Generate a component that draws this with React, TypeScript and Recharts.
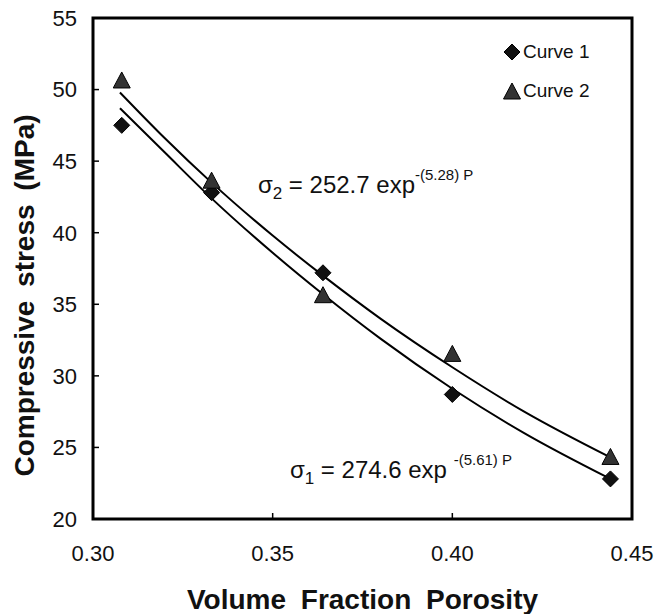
import React from 'react';
import {
  ComposedChart,
  Line,
  Scatter,
  XAxis,
  YAxis,
  ReferenceArea,
  ReferenceDot,
  Legend,
} from 'recharts';

// measured points
const porosity = [0.308, 0.333, 0.364, 0.4, 0.444];
const curve1 = [47.5, 42.8, 37.2, 28.7, 22.8];
const curve2 = [50.6, 43.6, 35.6, 31.5, 24.3];

// fitted exponential curves
const fitPorosity = [0.3075, 0.32, 0.333, 0.35, 0.364, 0.38, 0.4, 0.42, 0.444];
const fit1 = [48.7, 45.6, 42.4, 38.6, 35.7, 32.6, 29.1, 26.0, 22.8];
const fit2 = [49.8, 46.6, 43.5, 39.8, 37.0, 34.0, 30.6, 27.5, 24.3];

const xTicks = [0.3, 0.35, 0.4, 0.45];
const yTicks = [20, 25, 30, 35, 40, 45, 50, 55];
const seriesNames = ['Curve 1', 'Curve 2'];

const FONT = '"Liberation Sans", Arial, sans-serif';

const pts1 = porosity.map((p, i) => ({ p, s: curve1[i] }));
const pts2 = porosity.map((p, i) => ({ p, s: curve2[i] }));
const line1 = fitPorosity.map((p, i) => ({ p, s: fit1[i] }));
const line2 = fitPorosity.map((p, i) => ({ p, s: fit2[i] }));

const Diamond = (props: any) => {
  const { cx, cy } = props;
  const r = 8;
  return (
    <polygon
      points={`${cx},${cy - r} ${cx + r},${cy} ${cx},${cy + r} ${cx - r},${cy}`}
      fill="#111"
      stroke="#000"
      strokeWidth={1}
    />
  );
};

const Triangle = (props: any) => {
  const { cx, cy } = props;
  return (
    <polygon
      points={`${cx},${cy - 9} ${cx + 8.5},${cy + 7} ${cx - 8.5},${cy + 7}`}
      fill="#333"
      stroke="#000"
      strokeWidth={1}
    />
  );
};

const Eq2 = (props: any) => (
  <text x={props.cx} y={props.cy} fontFamily={FONT} fontSize={24} fill="#111" style={{ whiteSpace: 'pre' }}>
    <tspan>σ</tspan>
    <tspan fontSize={17} dy={6}>2</tspan>
    <tspan dy={-6}> = 252.7 exp</tspan>
    <tspan fontSize={15} dy={-13}>-(5.28) P</tspan>
  </text>
);

const Eq1 = (props: any) => (
  <text x={props.cx} y={props.cy} fontFamily={FONT} fontSize={24} fill="#111" style={{ whiteSpace: 'pre' }}>
    <tspan>σ</tspan>
    <tspan fontSize={17} dy={6}>1</tspan>
    <tspan dy={-6}> = 274.6 exp </tspan>
    <tspan fontSize={15} dy={-13}>-(5.61) P</tspan>
  </text>
);

const LegendBox = () => (
  <div style={{ fontFamily: FONT, fontSize: 19, color: '#111', lineHeight: '39px' }}>
    {seriesNames.map((name, i) => (
      <div key={name} style={{ display: 'flex', alignItems: 'center' }}>
        <svg width={18} height={18} style={{ marginRight: 2 }}>
          {i === 0 ? <Diamond cx={9} cy={9} /> : <Triangle cx={9} cy={10} />}
        </svg>
        {name}
      </div>
    ))}
  </div>
);

const YTitle = (props: any) => {
  const { viewBox } = props;
  const x = 34;
  const y = viewBox.y + viewBox.height / 2 + 27;
  return (
    <text
      x={x}
      y={y}
      transform={`rotate(-90, ${x}, ${y})`}
      textAnchor="middle"
      fontFamily={FONT}
      fontWeight="bold"
      fontSize={28}
      fill="#111"
      style={{ wordSpacing: 6 }}
    >
      Compressive stress (MPa)
    </text>
  );
};

export default function App() {
  return (
    <div style={{ position: 'absolute', left: 0, top: 0, width: 656, height: 614, background: '#fff' }}>
      <ComposedChart width={656} height={614} margin={{ top: 18, right: 24, bottom: 0, left: 0 }}>
        <XAxis
          dataKey="p"
          type="number"
          domain={[0.3, 0.45]}
          ticks={xTicks}
          tickFormatter={(v: number) => v.toFixed(2)}
          height={95}
          axisLine={false}
          tickSize={-6}
          tickMargin={32}
          tickLine={{ stroke: '#000', strokeWidth: 1.5 }}
          tick={{ fontFamily: FONT, fontSize: 22, fill: '#111' }}
          allowDataOverflow
          label={{
            value: 'Volume Fraction Porosity',
            position: 'insideBottom',
            offset: 5,
            style: { fontFamily: FONT, fontWeight: 'bold', fontSize: 28, fill: '#111', wordSpacing: 7 },
          }}
        />
        <YAxis
          dataKey="s"
          type="number"
          domain={[20, 55]}
          ticks={yTicks}
          width={93}
          axisLine={false}
          tickSize={-6}
          tickMargin={22}
          tickLine={{ stroke: '#000', strokeWidth: 1.5 }}
          tick={{ fontFamily: FONT, fontSize: 22, fill: '#111' }}
          allowDataOverflow
          label={<YTitle />}
        />
        <ReferenceArea
          x1={0.3}
          x2={0.45}
          y1={20}
          y2={55}
          fill="#fff"
          fillOpacity={0}
          stroke="#000"
          strokeWidth={3}
        />
        <Line
          data={line2}
          dataKey="s"
          type="monotone"
          stroke="#000"
          strokeWidth={2}
          dot={false}
          legendType="none"
          isAnimationActive={false}
        />
        <Line
          data={line1}
          dataKey="s"
          type="monotone"
          stroke="#000"
          strokeWidth={2}
          dot={false}
          legendType="none"
          isAnimationActive={false}
        />
        <Scatter name={seriesNames[0]} data={pts1} dataKey="s" shape={<Diamond />} isAnimationActive={false} />
        <Scatter name={seriesNames[1]} data={pts2} dataKey="s" shape={<Triangle />} isAnimationActive={false} />
        <ReferenceDot x={0.3459} y={42.77} shape={<Eq2 />} />
        <ReferenceDot x={0.3548} y={22.85} shape={<Eq1 />} />
        <Legend
          layout="horizontal"
          align="center"
          verticalAlign="middle"
          content={<LegendBox />}
          wrapperStyle={{ position: 'absolute', left: 503, top: 32, width: 'auto', height: 'auto' }}
        />
      </ComposedChart>
    </div>
  );
}
